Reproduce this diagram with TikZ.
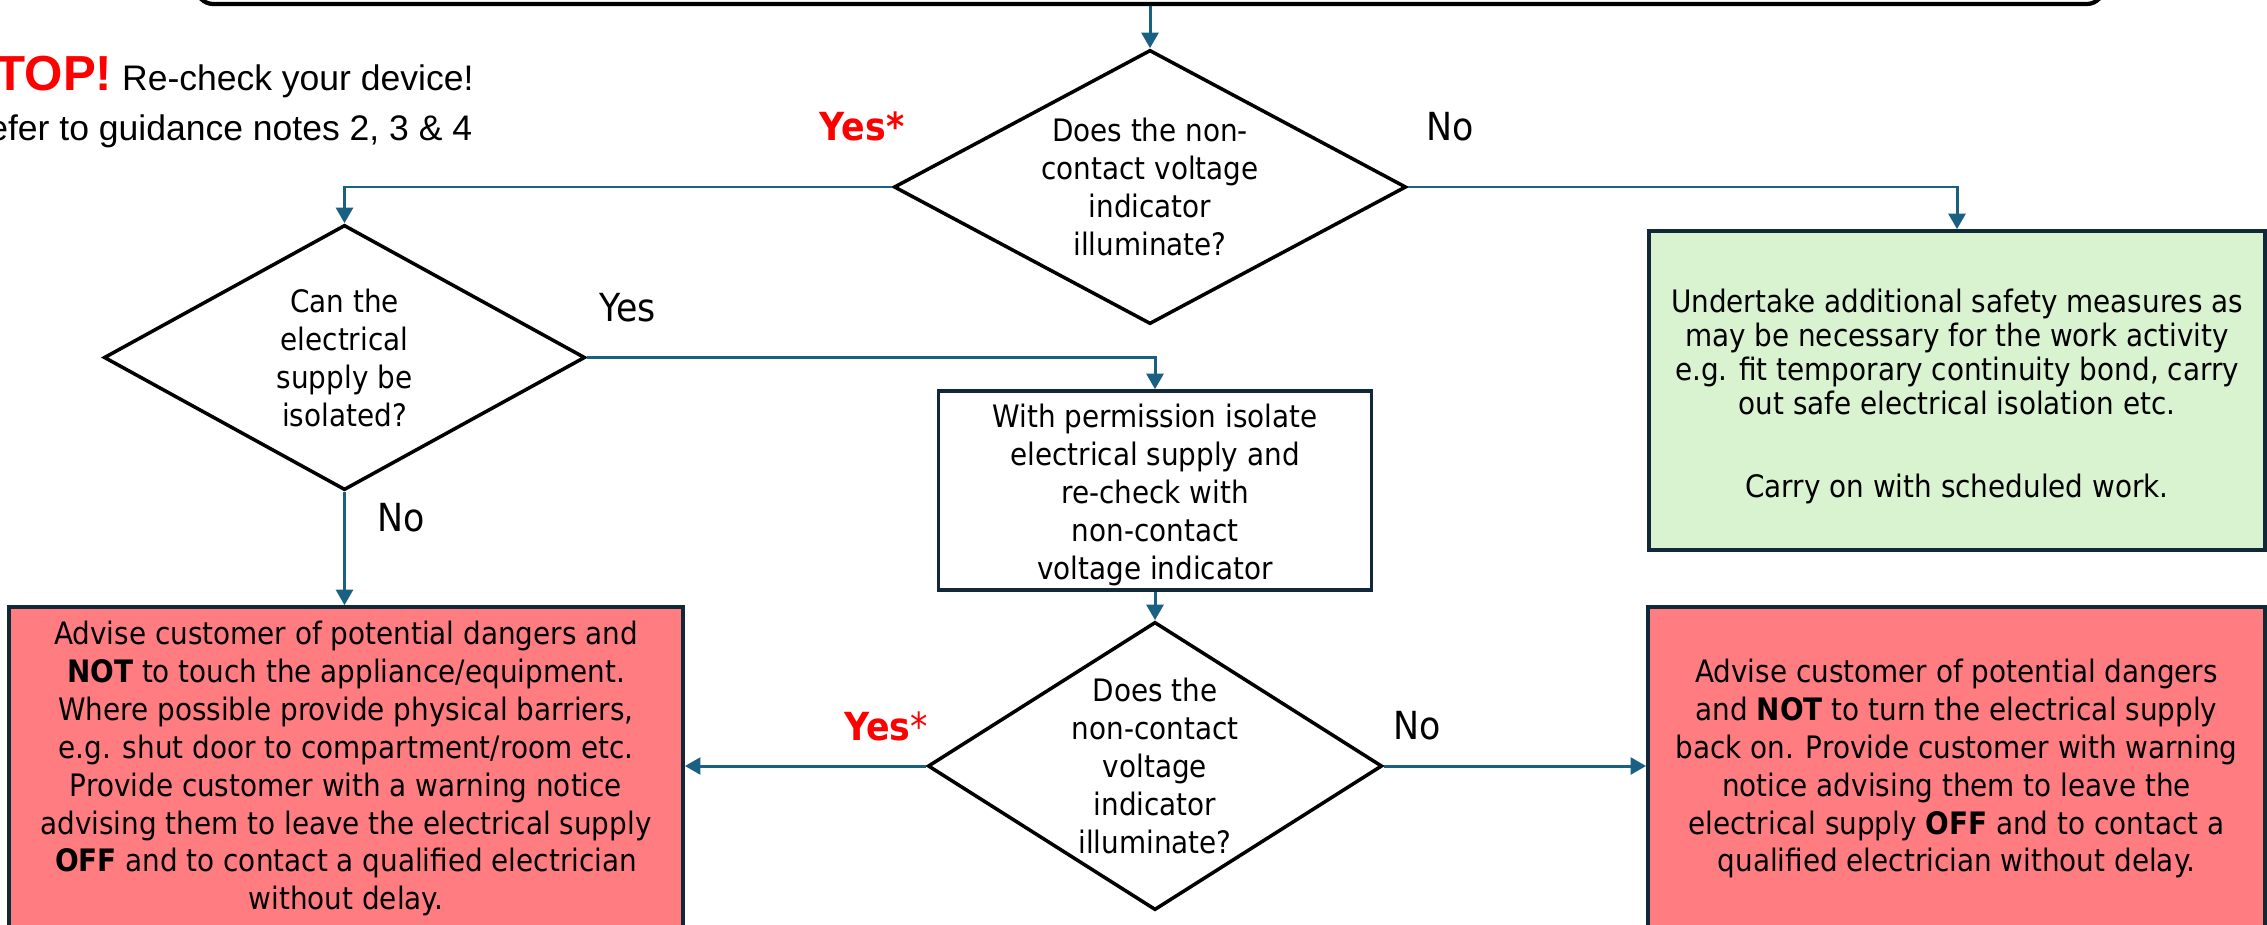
\documentclass[tikz,border=0pt]{standalone}
\usepackage{fontspec}
\usepackage{xcolor}
\usepackage{tikz}
\usetikzlibrary{positioning,arrows.meta,shapes.geometric}
\newfontfamily\flowfont[FakeStretch=0.9]{DejaVu Sans}
\newfontfamily\notefont{Liberation Sans}
\definecolor{linkblue}{RGB}{26,96,130}
\definecolor{edgenavy}{RGB}{16,40,56}
\definecolor{alertred}{RGB}{255,124,128}
\definecolor{safegreen}{RGB}{217,242,208}
\definecolor{yesred}{RGB}{255,0,0}

\begin{document}
\begin{tikzpicture}[x=0.01cm, y=-0.01cm,
  question/.style={diamond, draw=black, line width=1pt, inner sep=0pt},
  qtext/.style={align=center, inner sep=0pt,
                font=\flowfont\fontsize{8.8}{10.8}\selectfont},
  action/.style={draw=edgenavy, line width=1pt, inner sep=0pt, align=center,
                 font=\flowfont\fontsize{8.8}{10.8}\selectfont},
  link/.style={-{Triangle[length=4.4pt,width=4.8pt]}, line width=0.85pt, color=linkblue},
  answer/.style={inner sep=0pt, font=\flowfont\fontsize{11}{13}\selectfont},
  note/.style={inner sep=0pt, anchor=base west, font=\notefont\fontsize{10.1}{12}\selectfont}]
  \useasboundingbox (0,0) rectangle (2267,924);
  \clip (0,0) rectangle (2267,924);

  % top step, only its lower edge shows
  \node[draw=black, line width=1.2pt, rounded corners=5pt, fill=white,
        minimum width=19.07cm, minimum height=1.28cm] (start) at (1150,-60) {};

  % questions
  \node[question, minimum width=5.12cm, minimum height=2.74cm] (d1) at (1150,187) {};
  \node[qtext] (t1) at (d1) {Does the non-\\contact voltage\\indicator\\illuminate?};
  \node[question, minimum width=4.81cm, minimum height=2.65cm] (d2) at (344.5,357.5) {};
  \node[qtext] (t2) at (d2) {Can the\\electrical\\supply be\\isolated?};
  \node[question, minimum width=4.54cm, minimum height=2.88cm] (d3) at (1155,766) {};
  \node[qtext] (t3) at (d3) {Does the\\non-contact\\voltage\\indicator\\illuminate?};

  % actions
  \node[action, fill=white, minimum width=4.33cm, minimum height=1.99cm] (perm)
       at (1155,490.5) {\rule{0pt}{9pt}With permission isolate\\electrical supply and\\re-check with\\non-contact\\voltage indicator};
  \node[action, fill=safegreen, minimum width=6.16cm, minimum height=3.19cm,
        font=\flowfont\fontsize{8.8}{9.7}\selectfont] (green)
       at (1957,390.5) {\rule{0pt}{10pt}Undertake additional safety measures as\\may be necessary for the work activity\\e.g. fit temporary continuity bond, carry\\out safe electrical isolation etc.\\[14pt]Carry on with scheduled work.};
  \node[action, fill=alertred, minimum width=6.74cm, minimum height=3.23cm] (leftred)
       at (346,768.5) {Advise customer of potential dangers and\\\textbf{NOT} to touch the appliance/equipment.\\Where possible provide physical barriers,\\e.g. shut door to compartment/room etc.\\Provide customer with a warning notice\\advising them to leave the electrical supply\\\textbf{OFF} and to contact a qualified electrician\\without delay.};
  \node[action, fill=alertred, minimum width=6.17cm, minimum height=3.23cm] (rightred)
       at (1956.5,768.5) {Advise customer of potential dangers\\and \textbf{NOT} to turn the electrical supply\\back on. Provide customer with warning\\notice advising them to leave the\\electrical supply \textbf{OFF} and to contact a\\qualified electrician without delay.};

  % connectors
  \draw[link] (start.south) -- (d1.north);
  \draw[link] (d1.west) -| (d2.north);
  \draw[link] (d1.east) -| (green.north);
  \draw[link] (d2.east) -| (perm.north);
  \draw[link] (d2.south) -- (d2.south |- leftred.north);
  \draw[link] (perm.south) -- (d3.north);
  \draw[link] (d3.west) -- (d3.west -| leftred.east);
  \draw[link] (d3.east) -- (d3.east -| rightred.west);

  % answers
  \node[answer, text=yesred, font=\flowfont\bfseries\fontsize{11}{13}\selectfont] (y1) at (862,126) {Yes*};
  \node[answer] (n1) at (1450,127) {No};
  \node[answer] (y2) at (628,308) {Yes};
  \node[answer] (n2) at (401,518) {No};
  \node[answer, text=yesred] (y3) at (886,726) {\textbf{Yes}*};
  \node[answer] (n3) at (1417,726) {No};

  % warning note
  \node[note] (stop) at (-38,90) {{\color{yesred}\bfseries\fontsize{14}{16}\selectfont STOP!} Re-check your device!};
  \node[note] (refer) at (-38,140) {Refer to guidance notes 2, 3 \& 4};
\end{tikzpicture}
\end{document}
